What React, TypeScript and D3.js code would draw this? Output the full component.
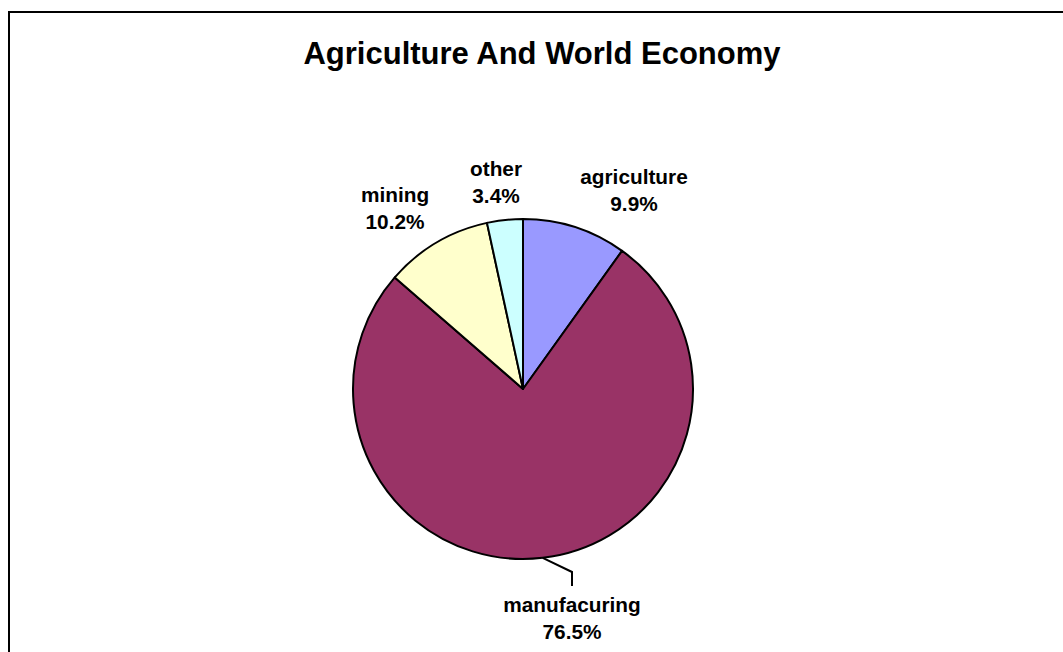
import React from "react";
import * as d3 from "d3";

const categories = ["agriculture", "manufacuring", "mining", "other"];
const values = [9.9, 76.5, 10.2, 3.4];
const colors = ["#9999FF", "#993366", "#FFFFCC", "#CCFFFF"];
const title = "Agriculture And World Economy";

// label layout: offsets of label centre (first baseline) from pie centre
const labelOffsets: [number, number][] = [
  [111, -205],
  [49, 223],
  [-128, -187],
  [-27, -213],
];

const W = 1063;
const H = 652;
const cx = 523;
const cy = 389;
const R = 170;
const FONT = "Arial, 'Liberation Sans', Helvetica, sans-serif";

export default function App() {
  const data = categories.map((c, i) => ({ name: c, value: values[i], color: colors[i] }));
  const pie = d3.pie<any>().value((d: any) => d.value).sort(null);
  const arcs = pie(data);
  const arc = d3.arc<any>().innerRadius(0).outerRadius(R);

  const manIdx = 1;
  const ma = arcs[manIdx];
  const mid = (ma.startAngle + ma.endAngle) / 2;
  const ex = Math.sin(mid) * R;
  const ey = -Math.cos(mid) * R;
  const [mlx, mly] = labelOffsets[manIdx];

  return (
    <div style={{ position: "absolute", left: 0, top: 0 }}>
      <svg width={W} height={H} style={{ display: "block", background: "#fff" }}>
        <rect x={9} y={12} width={W + 20} height={H + 20} fill="#fff" stroke="#000" strokeWidth={2} />
        <text x={542} y={64} textAnchor="middle" fontFamily={FONT} fontWeight="bold" fontSize={31}>
          {title}
        </text>
        <g transform={`translate(${cx},${cy})`}>
          {arcs.map((a, i) => (
            <path key={i} d={arc(a) as string} fill={a.data.color} stroke="#000" strokeWidth={2} strokeLinejoin="round" />
          ))}
          <polyline
            points={`${ex},${ey} ${mlx},${mly - 40} ${mlx},${mly - 26}`}
            fill="none"
            stroke="#000"
            strokeWidth={2}
          />
          {arcs.map((a, i) => {
            const [dx, dy] = labelOffsets[i];
            return (
              <text key={i} x={dx} y={dy} textAnchor="middle" fontFamily={FONT} fontWeight="bold" fontSize={20.8}>
                <tspan x={dx} dy={0}>{a.data.name}</tspan>
                <tspan x={dx} dy={27}>{`${a.data.value.toFixed(1)}%`}</tspan>
              </text>
            );
          })}
        </g>
      </svg>
    </div>
  );
}
